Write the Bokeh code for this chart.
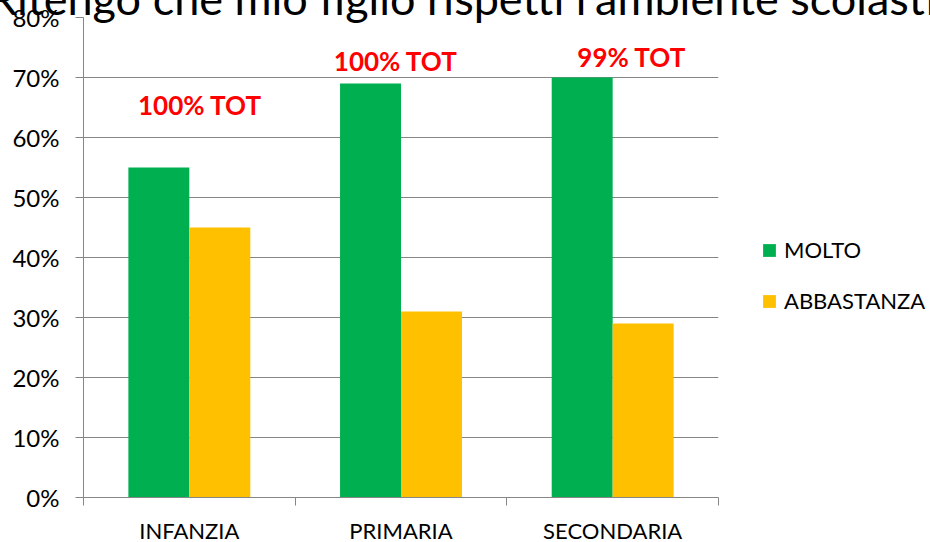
from bokeh.plotting import figure
from bokeh.models import (ColumnDataSource, Range1d, FixedTicker, NumeralTickFormatter,
                          Legend, LegendItem, Div)
from bokeh.layouts import column
from bokeh.transform import dodge
from bokeh.core.properties import value
from bokeh.embed import file_html
from bokeh.resources import INLINE

# ---- data ----
categories = ["INFANZIA", "PRIMARIA", "SECONDARIA"]
molto = [0.55, 0.69, 0.70]
abbastanza = [0.45, 0.31, 0.29]
tot_labels = ["100% TOT", "100% TOT", "99% TOT"]
y_ticks = [0.0, 0.1, 0.2, 0.3, 0.4, 0.5, 0.6, 0.7, 0.8]
title_text = "Ritengo che mio figlio rispetti l'ambiente scolastico"

# annotation placement (data units)
tot_dx = [0.05, -0.025, 0.09]
tot_y = [0.655, 0.728, 0.735]

GREEN = "#00B050"
ORANGE = "#FFC000"
GRID = "#868686"
FONT = "Lato"

xc = [i + 0.5 for i in range(len(categories))]
src = ColumnDataSource(dict(x=xc, molto=molto, abb=abbastanza))
lab_src = ColumnDataSource(dict(x=[c + d for c, d in zip(xc, tot_dx)], y=tot_y, t=tot_labels))

p = figure(frame_width=635, frame_height=480, output_backend="svg", toolbar_location=None,
           x_range=Range1d(0, len(categories)), y_range=Range1d(0, 0.8),
           min_border_left=83, min_border_top=17, min_border_bottom=45, min_border_right=212)
p.outline_line_color = None
p.background_fill_color = "white"
p.border_fill_color = "white"

bw = 0.288
r1 = p.vbar(x=dodge("x", -bw / 2, range=p.x_range), top="molto", width=bw, source=src,
            fill_color=GREEN, line_color=None)
r2 = p.vbar(x=dodge("x", bw / 2, range=p.x_range), top="abb", width=bw, source=src,
            fill_color=ORANGE, line_color=None)

p.text(x="x", y="y", text="t", source=lab_src, text_color="#FF0000",
       text_font=value(FONT), text_font_size="26px", text_font_style="bold",
       text_align="center", text_baseline="middle")

# axes
p.xgrid.grid_line_color = None
p.ygrid.grid_line_color = GRID
p.ygrid.ticker = FixedTicker(ticks=y_ticks)

ya = p.yaxis[0]
ya.ticker = FixedTicker(ticks=y_ticks)
ya.formatter = NumeralTickFormatter(format="0%")
ya.axis_line_color = GRID
ya.major_tick_line_color = GRID
ya.major_tick_out = 8
ya.major_tick_in = 0
ya.minor_tick_line_color = None
ya.major_label_standoff = 16
ya.major_label_text_font = FONT
ya.major_label_text_font_size = "24px"
ya.major_label_text_color = "#000000"

xa = p.xaxis[0]
xa.ticker = FixedTicker(ticks=xc, minor_ticks=list(range(len(categories) + 1)))
xa.major_label_overrides = {c: n for c, n in zip(xc, categories)}
xa.axis_line_color = GRID
xa.major_tick_line_color = None
xa.major_tick_out = 0
xa.major_tick_in = 0
xa.minor_tick_line_color = GRID
xa.minor_tick_out = 8
xa.minor_tick_in = 0
xa.major_label_standoff = 11
xa.major_label_text_font = FONT
xa.major_label_text_font_size = "22px"
xa.major_label_text_color = "#000000"

legend = Legend(items=[LegendItem(label="MOLTO", renderers=[r1]),
                       LegendItem(label="ABBASTANZA", renderers=[r2])],
                location=(43, 183), orientation="vertical",
                label_text_font=FONT, label_text_font_size="22px", label_text_color="#000000",
                glyph_width=16, glyph_height=16, label_standoff=7, spacing=24,
                padding=0, margin=0, border_line_color=None, background_fill_alpha=0)
p.add_layout(legend, "right")

# title (partly cut off at the top edge, as in the reference)
title = Div(text=title_text, width=946, height=54,
            styles={"position": "absolute", "left": "-16px", "top": "-34px",
                    "font-family": "Lato", "font-size": "45px", "line-height": "54px",
                    "white-space": "nowrap", "color": "#000000", "overflow": "hidden",
                    "z-index": "10"})

layout = column(p, title)
open("out.html", "w").write(file_html(layout, INLINE))
